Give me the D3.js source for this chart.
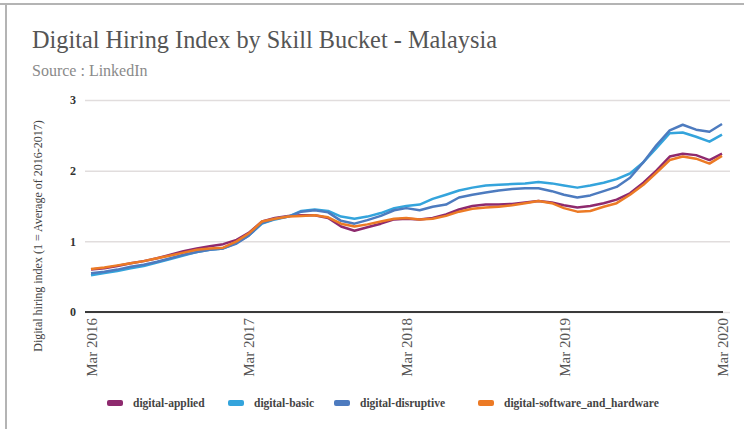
<!DOCTYPE html>
<html>
<head>
<meta charset="utf-8">
<script src="https://cdn.jsdelivr.net/npm/d3@7"></script>
<style>
  body { margin: 0; background: #fff; }
  svg { display: block; }
  text { font-family: "Liberation Serif", "Times New Roman", serif; }
</style>
</head>
<body>
<div id="chart"></div>
<script>
// monthly index values, Mar 2016 .. Mar 2020
var seriesNames = ["digital-applied", "digital-basic", "digital-disruptive", "digital-software_and_hardware"];
var seriesColors = ["#8e2a6e", "#34a4dc", "#4d7bbf", "#ec7a25"];
var tickLabels = ["Mar 2016", "Mar 2017", "Mar 2018", "Mar 2019", "Mar 2020"];
var yTicks = [0, 1, 2, 3];

var applied = [0.60, 0.62, 0.65, 0.69, 0.72, 0.76, 0.81, 0.86, 0.90, 0.93, 0.96, 1.02, 1.12,
  1.28, 1.33, 1.36, 1.37, 1.37, 1.33, 1.21, 1.15, 1.20, 1.25, 1.31, 1.32,
  1.31, 1.33, 1.38, 1.45, 1.50, 1.52, 1.52, 1.53, 1.55, 1.57, 1.55, 1.51,
  1.48, 1.50, 1.54, 1.59, 1.68, 1.83, 2.00, 2.20, 2.24, 2.22, 2.15, 2.24];
var basic = [0.52, 0.55, 0.58, 0.62, 0.65, 0.70, 0.75, 0.80, 0.85, 0.88, 0.90, 0.98, 1.08,
  1.25, 1.31, 1.35, 1.43, 1.45, 1.43, 1.35, 1.32, 1.35, 1.40, 1.47, 1.50,
  1.52, 1.60, 1.66, 1.72, 1.76, 1.79, 1.80, 1.81, 1.82, 1.84, 1.82, 1.79,
  1.76, 1.79, 1.83, 1.88, 1.96, 2.12, 2.32, 2.53, 2.54, 2.48, 2.41, 2.51];
var disruptive = [0.55, 0.57, 0.60, 0.64, 0.67, 0.71, 0.76, 0.81, 0.85, 0.88, 0.90, 0.97, 1.08,
  1.26, 1.32, 1.35, 1.42, 1.44, 1.41, 1.29, 1.25, 1.30, 1.36, 1.44, 1.47,
  1.44, 1.49, 1.52, 1.62, 1.66, 1.69, 1.72, 1.74, 1.75, 1.75, 1.71, 1.66,
  1.62, 1.65, 1.71, 1.77, 1.90, 2.12, 2.36, 2.57, 2.65, 2.58, 2.55, 2.66];
var software = [0.61, 0.63, 0.66, 0.69, 0.72, 0.76, 0.80, 0.84, 0.88, 0.90, 0.91, 1.00, 1.11,
  1.28, 1.32, 1.35, 1.36, 1.37, 1.34, 1.25, 1.21, 1.24, 1.28, 1.32, 1.33,
  1.31, 1.32, 1.36, 1.42, 1.46, 1.48, 1.49, 1.51, 1.54, 1.57, 1.54, 1.47,
  1.42, 1.43, 1.49, 1.54, 1.66, 1.80, 1.97, 2.15, 2.20, 2.17, 2.10, 2.21];

var seriesValues = [applied, basic, disruptive, software];
var months = d3.timeMonth.range(new Date(2016, 2, 1), new Date(2020, 3, 1));

var width = 744, height = 429;

var svg = d3.select("#chart").append("svg")
  .attr("width", width)
  .attr("height", height);

// frame edges (top and left)
svg.append("line").attr("x1", 0).attr("x2", width).attr("y1", 4).attr("y2", 4)
  .attr("stroke", "#b4b4b4").attr("stroke-width", 2);
svg.append("line").attr("x1", 6).attr("x2", 6).attr("y1", 4).attr("y2", height)
  .attr("stroke", "#b4b4b4").attr("stroke-width", 2);

svg.append("text")
  .attr("x", 32).attr("y", 48)
  .attr("font-size", 24.3)
  .attr("fill", "#555")
  .text("Digital Hiring Index by Skill Bucket - Malaysia");

svg.append("text")
  .attr("x", 32).attr("y", 76)
  .attr("font-size", 16)
  .attr("fill", "#8a8a8a")
  .text("Source : LinkedIn");

var x = d3.scaleTime()
  .domain([months[0], months[months.length - 1]])
  .range([91, 722]);

var y = d3.scaleLinear()
  .domain([0, 3])
  .range([312, 100]);

// y axis + gridlines
var yAxis = svg.append("g")
  .attr("transform", "translate(85,0)")
  .call(d3.axisLeft(y).tickValues(yTicks).tickSize(-645).tickPadding(9).tickFormat(d3.format("d")));
yAxis.select(".domain").remove();
yAxis.selectAll(".tick line").attr("stroke", "#e1dddd").attr("stroke-width", 1.5);
yAxis.selectAll(".tick text")
  .attr("font-family", null)
  .attr("font-size", 12)
  .attr("font-weight", "bold")
  .attr("fill", "#333");

svg.append("line")
  .attr("x1", 85).attr("x2", 723)
  .attr("y1", y(0)).attr("y2", y(0))
  .attr("stroke", "#3a3a3a").attr("stroke-width", 2);

svg.append("text")
  .attr("transform", "translate(38,236) rotate(-90)")
  .attr("text-anchor", "middle")
  .attr("dy", "0.35em")
  .attr("font-size", 12)
  .attr("fill", "#444")
  .text("Digital hiring index (1 = Average of 2016-2017)");

// x axis
var tickDates = tickLabels.map(function (t) { return d3.timeParse("%b %Y")(t); });
var xAxis = svg.append("g")
  .attr("transform", "translate(0," + y(0) + ")")
  .call(d3.axisBottom(x).tickValues(tickDates).tickSize(0).tickFormat(d3.timeFormat("%b %Y")));
xAxis.select(".domain").remove();
xAxis.selectAll(".tick text")
  .attr("transform", "rotate(-90)")
  .attr("text-anchor", "end")
  .attr("x", -6)
  .attr("y", 0)
  .attr("dy", "0.35em")
  .attr("font-family", null)
  .attr("font-size", 15)
  .attr("fill", "#555");

// lines
var line = d3.line()
  .x(function (d, i) { return x(months[i]); })
  .y(function (d) { return y(d); });

svg.append("g").selectAll("path")
  .data(seriesValues)
  .enter()
  .append("path")
  .attr("d", line)
  .attr("fill", "none")
  .attr("stroke", function (d, i) { return seriesColors[i]; })
  .attr("stroke-width", 2.5)
  .attr("stroke-linejoin", "round");

// legend
var legendX = [107, 228, 334, 478];
var legend = svg.append("g").selectAll("g")
  .data(seriesNames)
  .enter()
  .append("g")
  .attr("transform", function (d, i) { return "translate(" + legendX[i] + ",403)"; });

legend.append("rect")
  .attr("x", 0).attr("y", -3)
  .attr("width", 16).attr("height", 6)
  .attr("rx", 2)
  .attr("fill", function (d, i) { return seriesColors[i]; });

legend.append("text")
  .attr("x", 26).attr("y", 0)
  .attr("dy", "0.35em")
  .attr("font-size", 11.5)
  .attr("font-weight", "bold")
  .attr("fill", "#444")
  .text(function (d) { return d; });
</script>
</body>
</html>
